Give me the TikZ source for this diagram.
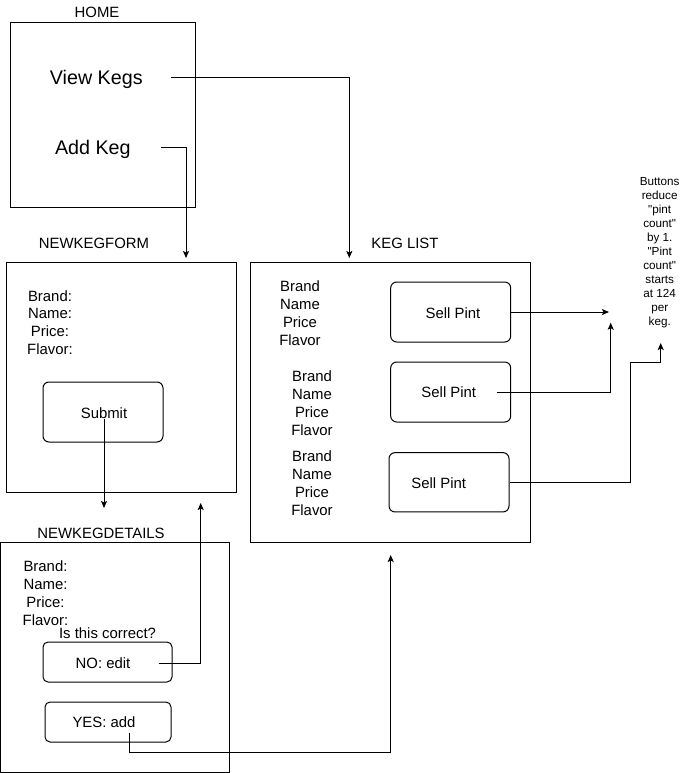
\documentclass[tikz,border=0pt]{standalone}
\usepackage{fontspec}
\setmainfont{Liberation Sans}
\usetikzlibrary{arrows.meta}

\begin{document}
\begin{tikzpicture}[x=1pt,y=-1pt,line width=1pt,>={Stealth[length=7pt,width=6pt,inset=1.5pt]}]
	% `screen' is used for the page boxes, `button' for the rounded buttons.
	\tikzstyle{screen} = [draw,inner sep=0pt]
	\tikzstyle{button} = [draw,rounded corners=6pt,inner sep=0pt]
	\tikzstyle{label} = [inner sep=0pt,font=\fontsize{14.9}{17.8}\selectfont]
	\tikzstyle{field} = [inner sep=0pt,align=center,font=\fontsize{14.9}{17.8}\selectfont]
	\tikzstyle{big} = [inner sep=0pt,text height=14pt,text depth=0pt,font=\fontsize{19.7}{23.6}\selectfont]
	\tikzstyle{note} = [inner sep=0pt,align=center,font=\fontsize{11.7}{14}\selectfont]
	\useasboundingbox (0,0) rectangle (682,773);
	%
	% Home page.
	\node[label] (hometitle) at (97,12.3) {HOME};
	\node[screen,minimum width=185pt,minimum height=185pt] (home) at (103.2,114.8) {};
	\node[big,minimum width=149pt] (view) at (96.3,77.7) {View Kegs};
	\node[big,minimum width=136pt] (addkeg) at (92.8,147.7) {Add Keg};
	%
	% New keg form.
	\node[label] (formtitle) at (94,243) {NEWKEGFORM};
	\node[screen,minimum width=230pt,minimum height=230pt] (form) at (121.7,377) {};
	\node[field] (formfields) at (50,322.5) {Brand:\\Name:\\Price:\\Flavor:};
	\node[button,minimum width=120pt,minimum height=60pt] (submit) at (103,412) {};
	\node[label] (submittxt) at (104,413) {Submit};
	%
	% New keg details.
	\node[label] (detailstitle) at (101,533) {NEWKEGDETAILS};
	\node[screen,minimum width=229.3pt,minimum height=230pt] (details) at (115.3,657) {};
	\node[field] (detailfields) at (45.5,593) {Brand:\\Name:\\Price:\\Flavor:};
	\node[label] (correct) at (107.5,633) {Is this correct?};
	\node[button,rounded corners=5pt,minimum width=129pt,minimum height=40pt] (no) at (107.5,662) {};
	\node[label,minimum width=110pt] (notxt) at (103,663) {NO: edit};
	\node[button,rounded corners=5pt,minimum width=126pt,minimum height=40pt] (yes) at (108,722) {};
	\node[label] (yestxt) at (104,722) {YES: add};
	%
	% Keg list.
	\node[label] (listtitle) at (405,243) {KEG LIST};
	\node[screen,minimum width=280pt,minimum height=280pt] (keglist) at (390.7,402) {};
	\node[field] (keg1) at (300,313) {Brand\\Name\\Price\\Flavor};
	\node[field] (keg2) at (312,403) {Brand\\Name\\Price\\Flavor};
	\node[field] (keg3) at (312,483) {Brand\\Name\\Price\\Flavor};
	\node[button,minimum width=120pt,minimum height=60pt] (sell1) at (450.7,312) {};
	\node[button,minimum width=120pt,minimum height=60pt] (sell2) at (450.7,392) {};
	\node[button,minimum width=120pt,minimum height=59.3pt] (sell3) at (449,482.3) {};
	\node[label] (sell1txt) at (453,312.7) {Sell Pint};
	\node[label,minimum width=94.4pt] (sell2txt) at (448.8,392) {Sell Pint};
	\node[label] (sell3txt) at (438.7,482.7) {Sell Pint};
	%
	% Note on the right.
	\node[note] (pintnote) at (659.7,253) {Buttons\\reduce\\\textquotedbl pint\\count\textquotedbl\\by 1.\\\textquotedbl Pint\\count\textquotedbl\\starts\\at 124\\per\\keg.};
	%
	% Arrow ends.
	\coordinate (kegtop) at (349.3,258);
	\coordinate (formtop) at (186,258);
	\coordinate (detailstop) at (104,508);
	\coordinate (formback) at (200.7,503);
	\coordinate (kegbottom) at (390.7,555);
	\coordinate (notein1) at (609,312);
	\coordinate (notein2) at (610.7,322.7);
	\coordinate (bend3) at (630.7,362);
	\coordinate (notein3) at (660.7,343);
	%
	% Draw lines.
	\draw[->] (view.east) -| (kegtop);
	\draw[->] (addkeg.east) -| (formtop);
	\draw[->] (submittxt.south) -- (detailstop);
	\draw[->] (notxt.east) -| (formback);
	\draw[->] ([xshift=25pt,yshift=-5pt]yestxt.south) -- ++(0,19.7) -| (kegbottom);
	\draw[->] (sell1.east) -- (notein1);
	\draw[->] (sell2txt.east) -| (notein2);
	\draw[->] (sell3.east) -| (bend3) -| (notein3);
\end{tikzpicture}
\end{document}
